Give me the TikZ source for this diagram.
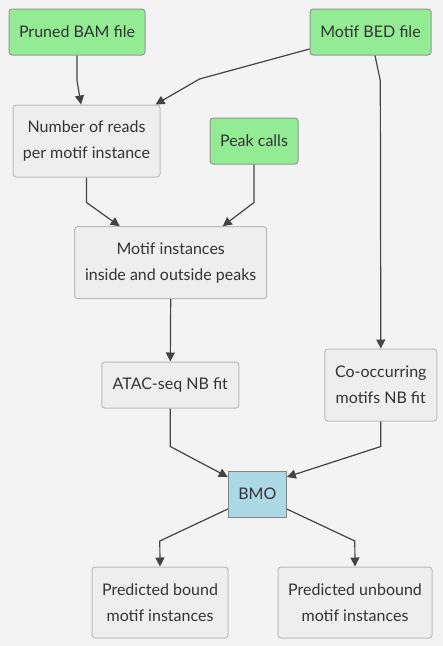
\documentclass[tikz,border=0pt]{standalone}
\usepackage{fontspec}
\setmainfont{Lato}
\usepackage{tikz}
\usetikzlibrary{arrows.meta, positioning}
\usepackage{xcolor}
\definecolor{bgcol}{HTML}{F3F3F3}
\definecolor{inputfill}{HTML}{93EB93}
\definecolor{procfill}{HTML}{EEEEEE}
\definecolor{modelfill}{HTML}{ADD8E6}
\definecolor{edgecol}{HTML}{BBBBBB}
\definecolor{linecol}{HTML}{444444}
\definecolor{textcol}{HTML}{333333}

\begin{document}
\begin{tikzpicture}[
    x=1pt, y=-1pt,
    base/.style={rectangle, draw=edgecol, line width=1pt, align=center, text=textcol, inner sep=0pt, font=\fontsize{16pt}{26pt}\selectfont},
    input/.style={base, rounded corners=3pt, fill=inputfill, draw=edgecol!80!black, minimum height=46pt},
    process/.style={base, rounded corners=3pt, fill=procfill, minimum height=46pt},
    model/.style={base, fill=modelfill, draw=edgecol!70!black},
    arrow/.style={-{Triangle[length=9pt, width=9pt]}, draw=linecol, line width=1.2pt}
]
    \useasboundingbox[fill=bgcol] (0,0) rectangle (443,646);

    % Inputs
    \node[input, minimum width=136pt] (bam) at (77,32) {Pruned BAM file};
    \node[input, minimum width=121pt] (bed) at (370.5,32) {Motif BED file};
    \node[input, minimum width=88pt] (peaks) at (254,141) {Peak calls};

    % Processing steps
    \node[process, minimum width=147pt, minimum height=72pt] (reads) at (86.5,141) {Number of reads\\per motif instance};
    \node[process, minimum width=192pt, minimum height=72pt] (inst) at (170.7,262.7) {Motif instances\\inside and outside peaks};
    \node[process, minimum width=137pt] (atac) at (170.3,385) {ATAC-seq NB fit};
    \node[process, minimum width=112pt, minimum height=72pt] (cooc) at (380.8,385) {Co-occurring\\motifs NB fit};
    \node[model, minimum width=58pt, minimum height=46pt] (bmo) at (257.3,494) {BMO};

    % Outputs
    \node[process, minimum width=136pt, minimum height=71pt] (bound) at (160,602.5) {Predicted bound\\motif instances};
    \node[process, minimum width=154pt, minimum height=71pt] (unbound) at (355,602.5) {Predicted unbound\\motif instances};

    % Flow
    \draw[arrow] (bam.south) -- ++(0,25) -- ([xshift=-5.5pt]reads.north);
    \draw[arrow] ([yshift=-17pt]bed.west) -- ++(-110,30) -- ([xshift=-5pt]reads.north east);
    \draw[arrow] ([xshift=4.5pt]bed.south) -- ++(5.3,25) -- (cooc.north);
    \draw[arrow] (reads.south) -- ++(0,25) -- ([xshift=-51pt]inst.north);
    \draw[arrow] (peaks.south) -- ++(0,38) -- ([xshift=52pt]inst.north);
    \draw[arrow] (inst.south) -- (atac.north);
    \draw[arrow] (atac.south) -- ++(0,38) -- ([yshift=17pt]bmo.west);
    \draw[arrow] (cooc.south) -- ++(0,25) -- ([yshift=17pt]bmo.east);
    \draw[arrow] ([yshift=-15pt]bmo.west) -- ++(-68,32) -- (bound.north);
    \draw[arrow] ([yshift=-15pt]bmo.east) -- ++(68,32) -- (unbound.north);
\end{tikzpicture}
\end{document}
